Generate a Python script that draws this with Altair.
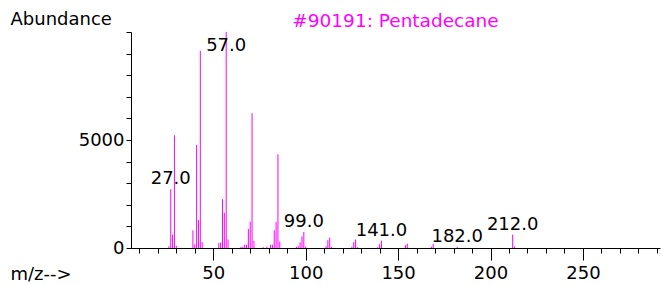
import altair as alt
import pandas as pd

# ---- data ----
mz = [26, 27, 28, 29, 30,
      39, 40, 41, 42, 43, 44,
      53, 54, 55, 56, 57, 58,
      65, 66, 67, 68, 69, 70, 71, 72,
      77, 79, 81, 82, 83, 84, 85, 86,
      95, 96, 97, 98, 99, 100,
      111, 112, 113, 114,
      125, 126, 127, 128,
      139, 140, 141,
      154, 155,
      168, 169,
      182,
      212, 213]
abundance = [80, 2720, 620, 5220, 100,
             820, 170, 4770, 1290, 9130, 280,
             230, 250, 2260, 1630, 10000, 400,
             50, 60, 150, 150, 880, 1220, 6240, 330,
             40, 60, 150, 150, 820, 1200, 4340, 300,
             60, 80, 265, 540, 745, 60,
             80, 360, 480, 50,
             60, 265, 390, 40,
             40, 170, 340,
             130, 200,
             60, 190,
             60,
             620, 70]
label_mz = [27, 57, 99, 141, 182, 212]

x_tick_values = list(range(10, 300, 10))
y_tick_values = list(range(0, 10001, 1000))

title_text = "#90191: Pentadecane"
x_title = "m/z-->"
y_title = "Abundance"

peaks = pd.DataFrame({"mz": mz, "abundance": abundance})
lookup = dict(zip(mz, abundance))
labels = pd.DataFrame({"mz": label_mz, "abundance": [lookup[m] for m in label_mz]})

FONT = "DejaVu Sans"
MAGENTA = "#ff00ff"

xscale = alt.Scale(domain=[5.5, 291.7], nice=False, zero=False)
yscale = alt.Scale(domain=[0, 10000], nice=False)

x_axis = alt.Axis(
    values=x_tick_values,
    labelExpr="datum.value % 50 === 0 ? datum.label : ''",
    tickSize={"condition": {"test": "datum.value % 50 === 0", "value": 12}, "value": 5},
    labelPadding=4,
    labelFlush=False,
    labelOverlap=False,
    grid=False,
    title=x_title,
    titleX=-121,
    titleY=31,
    titleAlign="left",
    titleBaseline="alphabetic",
    titleAngle=0,
)
y_axis = alt.Axis(
    values=y_tick_values,
    format="d",
    labelExpr="datum.value === 0 || datum.value === 5000 ? datum.label : ''",
    tickSize=5,
    labelPadding=2,
    labelOverlap=False,
    grid=False,
    title=y_title,
    titleX=-121,
    titleY=-8,
    titleAngle=0,
    titleAlign="left",
    titleBaseline="alphabetic",
)

bars = alt.Chart(peaks).mark_rule(color=MAGENTA, strokeWidth=1).encode(
    x=alt.X("mz:Q", scale=xscale, axis=x_axis),
    y=alt.Y("abundance:Q", scale=yscale, axis=y_axis),
    y2=alt.datum(0),
)

text = alt.Chart(labels).transform_calculate(
    label="format(datum.mz, '.1f')",
    ylab="min(datum.abundance, 8880)",
).mark_text(
    font=FONT, fontSize=18, color="black", align="center", baseline="alphabetic", dy=-5
).encode(
    x=alt.X("mz:Q", scale=xscale, axis=x_axis),
    y=alt.Y("ylab:Q", scale=yscale, axis=y_axis),
    text="label:N",
)

chart = alt.layer(bars, text).properties(
    width=529,
    height=216,
    autosize=alt.AutoSizeParams(type="none"),
    padding={"left": 123, "top": 24, "right": 1, "bottom": 37},
    title=alt.TitleParams(
        title_text, color=MAGENTA, font=FONT, fontSize=18.5, fontWeight="normal",
        anchor="middle", offset=-20,
    ),
).configure_axis(
    domainColor="black",
    tickColor="black",
    labelColor="black",
    titleColor="black",
    labelFont=FONT,
    titleFont=FONT,
    labelFontSize=18,
    titleFontSize=18,
    titleFontWeight="normal",
    domainWidth=1,
    tickWidth=1,
    labelOverlap=False,
).configure_view(strokeWidth=0)

chart.save("out.html", embed_options={"renderer": "svg", "actions": False})
